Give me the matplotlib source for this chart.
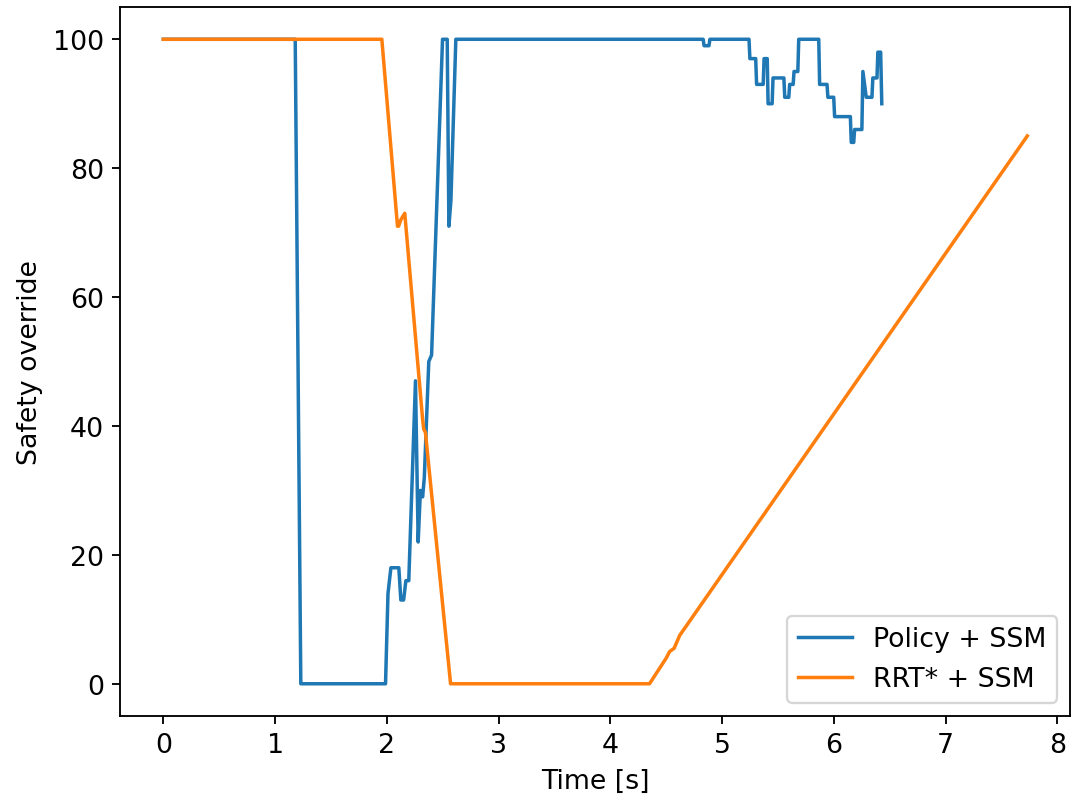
import matplotlib
matplotlib.use('Agg')
import matplotlib.pyplot as plt

# Policy + SSM safety override
t_policy = [0.0, 1.18, 1.23, 1.988, 2.01, 2.036, 2.107, 2.125, 2.15, 2.17, 2.196,
            2.256, 2.28, 2.30, 2.32, 2.335, 2.375, 2.40, 2.498, 2.54, 2.555, 2.573,
            2.617, 4.83, 4.838, 4.882, 4.89, 5.24, 5.248, 5.30, 5.308, 5.367, 5.375,
            5.403, 5.411, 5.447, 5.455, 5.552, 5.56, 5.596, 5.604, 5.635, 5.643,
            5.677, 5.685, 5.864, 5.872, 5.938, 5.946, 5.998, 6.006, 6.147, 6.155,
            6.177, 6.185, 6.25, 6.259, 6.289, 6.34, 6.348, 6.385, 6.393, 6.418, 6.428]
v_policy = [100, 100, 0, 0, 14, 18, 18, 13, 13, 16, 16,
            47, 22, 30, 29, 32, 50, 51, 100, 100, 71, 75,
            100, 100, 99, 99, 100, 100, 97, 97, 93, 93, 97,
            97, 90, 90, 94, 94, 91, 91, 93, 93, 95,
            95, 100, 100, 93, 93, 91, 91, 88, 88, 84,
            84, 86, 86, 95, 91, 91, 94, 94, 98, 98, 90]

# RRT* + SSM safety override
t_rrt = [0.0, 1.955, 2.095, 2.105, 2.125, 2.16, 2.32, 2.33, 2.345, 2.57,
         4.35, 4.50, 4.53, 4.57, 4.62, 7.73]
v_rrt = [100, 100, 71, 71, 72, 73, 41, 39.5, 39, 0,
         0, 4, 5, 5.5, 7.5, 85]

plt.rcParams['font.size'] = 11.5
fig = plt.figure(figsize=(6.4, 4.785), dpi=167.6)
ax = fig.add_subplot(111)
fig.subplots_adjust(left=0.112, right=0.998, top=0.99, bottom=0.106)

ax.plot(t_policy, v_policy, label='Policy + SSM')
ax.plot(t_rrt, v_rrt, label='RRT* + SSM')
ax.legend(loc='lower right')
ax.set_xlabel('Time [s]')
ax.set_ylabel('Safety override')
fig.savefig('out.png')
